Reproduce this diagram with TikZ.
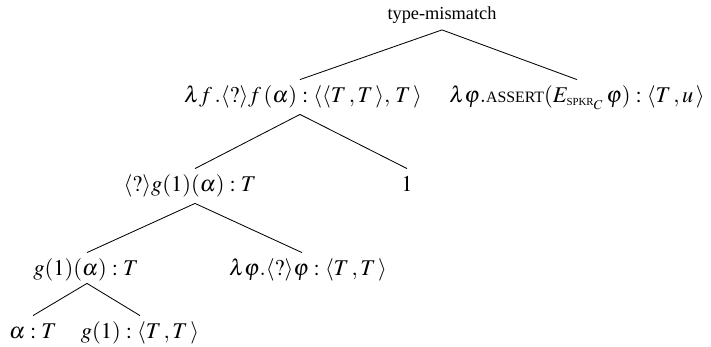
\documentclass[tikz,border=0pt]{standalone}
\usepackage{amsmath}
\usepackage{mathptmx}
\usepackage{fontspec}
\setmainfont{Liberation Serif}
\usetikzlibrary{positioning, calc}
\newcommand{\tupl}[1]{\langle #1\,\rangle}
\newcommand{\unkn}{\langle ?\rangle}
\newcommand{\smcp}[1]{\text{\fontsize{9.5}{11}\selectfont #1}}
\newcommand{\sbsc}[1]{\text{\fontsize{6.5}{7}\selectfont #1}}
\begin{document}
\begin{tikzpicture}[x=0.6pt, y=-0.6pt,
    lbl/.style={inner xsep=0pt, inner ysep=4pt, text height=7.5pt, text depth=2pt},
    mlbl/.style={lbl, font=\fontsize{13.5}{16}\selectfont, text height=9.5pt, text depth=3pt},
    branch/.style={line width=0.5pt}]
  \useasboundingbox (0,0) rectangle (711,347);
  % labels
  \node[lbl, font=\fontsize{11}{13}\selectfont] (root) at (442,15) {type-mismatch};
  \node[mlbl] (lf)   at (303,97) {$\lambda f\,.\unkn f\,(\alpha) : \tupl{\tupl{T\,,T},\,T}$};
  \node[mlbl] (asrt) at (577,97) {$\lambda\varphi.\smcp{ASSERT}(E_{\sbsc{SPKR}_C}\,\varphi) : \tupl{T\,,u}$};
  \node[mlbl] (qg)   at (190,186) {$\unkn g(1)(\alpha) : T$};
  \node[mlbl] (one)  at (407,186) {$1$};
  \node[mlbl] (ga)   at (86,270) {$g(1)(\alpha) : T$};
  \node[mlbl] (lq)   at (308,270) {$\lambda\varphi.\unkn\varphi : \tupl{T\,,T}$};
  \node[mlbl] (al)   at (33,333) {$\alpha : T$};
  \node[mlbl] (g1)   at (140,333) {$g(1) : \tupl{T\,,T}$};
  % branches
  \draw[branch] (root.south) -- ($(lf.north)+(-3,0)$);
  \draw[branch] (root.south) -- (asrt.north);
  \draw[branch] ($(lf.south)+(-3,0)$) -- ($(qg.north)+(5,0)$);
  \draw[branch] ($(lf.south)+(-3,0)$) -- (one.north);
  \draw[branch] ($(qg.south)+(5,0)$) -- ($(ga.north)+(1,0)$);
  \draw[branch] ($(qg.south)+(5,0)$) -- ($(lq.north)+(-6,0)$);
  \draw[branch] ($(ga.south)+(1,-4)$) -- (al.north);
  \draw[branch] ($(ga.south)+(1,-4)$) -- (g1.north);
\end{tikzpicture}
\end{document}
